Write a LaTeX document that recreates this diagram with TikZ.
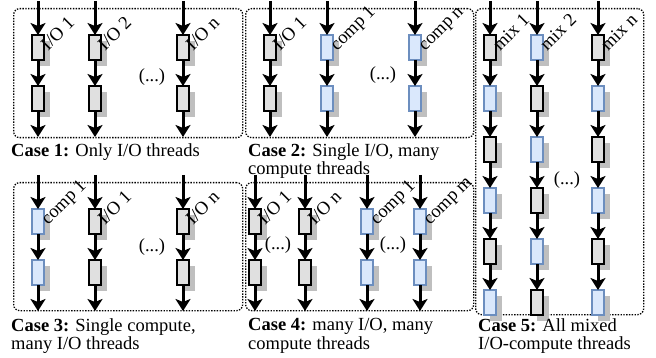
\documentclass[tikz,border=0pt]{standalone}
\usepackage{fontspec}
\setmainfont{Liberation Serif}
\usetikzlibrary{
	positioning,
	arrows.meta,
	shadows
}
\definecolor{iofill}{RGB}{224,224,224}
\definecolor{compfill}{RGB}{218,232,252}
\definecolor{compline}{RGB}{108,142,191}
\newcommand{\IO}{I/O}

\begin{document}
\begin{tikzpicture}[
			x=1pt, y=1pt,
			node distance=26pt,
			font=\fontsize{18.5}{18.5}\selectfont,
			iobox/.style={
				draw=black,
				line width=2pt,
				fill=iofill,
				minimum width=12pt,
				minimum height=25pt,
				inner sep=0pt,
				outer sep=0pt,
				drop shadow={shadow xshift=6pt, shadow yshift=-6pt, fill=black!25, opacity=1}
			},
			compbox/.style={iobox, draw=compline, fill=compfill},
			thread/.style={line width=3pt, -{Stealth[length=12pt,width=15pt,inset=3pt]}},
			lab/.style={rotate=45, anchor=base west, inner sep=0pt},
			frame/.style={
				draw,
				dash pattern=on 1.4pt off 1.4pt,
				line width=1.3pt,
				rounded corners=6pt,
				anchor=north west,
				inner sep=0pt
			},
			caption/.style={anchor=north west, align=left, inner sep=0pt}
			]
			
			\useasboundingbox (0,-358) rectangle (656,0);
			
			% frames
			\node[frame, minimum width=229pt, minimum height=129pt] (case1) at (13,-8) {};
			\node[frame, minimum width=228pt, minimum height=129pt] (case2) at (245,-8) {};
			\node[frame, minimum width=229pt, minimum height=128pt] (case3) at (13,-182) {};
			\node[frame, minimum width=228pt, minimum height=128pt] (case4) at (245,-182) {};
			\node[frame, minimum width=168pt, minimum height=306pt] (case5) at (475,-8) {};
			
			% threads with two tasks (cases 1 to 4)
			\foreach \x/\y/\sty/\lab [count=\i] in {
				38/-1/iobox/{\IO~1}, 95/-1/iobox/{\IO~2}, 183/-1/iobox/{\IO~n},
				270/-1/iobox/{\IO~1}, 327/-1/compbox/{comp 1}, 415/-1/compbox/{comp n},
				38/-175/compbox/{comp 1}, 95/-175/iobox/{\IO~1}, 183/-175/iobox/{\IO~n},
				255/-175/iobox/{\IO~1}, 305/-175/iobox/{\IO~n},
				367/-175/compbox/{comp 1}, 420/-175/compbox/{comp m}} {
				\coordinate (t\i) at (\x,\y);
				\node[\sty, below=34pt of t\i] (a\i) {};
				\node[\sty, below=of a\i] (b\i) {};
				\coordinate[below=26pt of b\i] (e\i);
				\node[lab] (l\i) at ([xshift=4pt,yshift=-4pt]a\i.east) {\lab};
				\draw[thread] (t\i) -- (a\i);
				\draw[thread] (a\i) -- (b\i);
				\draw[thread] (b\i) -- (e\i);
			}
			
			% mixed threads (case 5)
			\foreach \x/\sa/\sb/\lab [count=\i] in {
				490/iobox/compbox/{mix 1}, 537/compbox/iobox/{mix 2}, 598/iobox/compbox/{mix n}} {
				\coordinate (mt\i) at (\x,-1);
				\node[\sa, below=34pt of mt\i] (m\i-1) {};
				\node[\sb, below=of m\i-1] (m\i-2) {};
				\node[\sa, below=of m\i-2] (m\i-3) {};
				\node[\sb, below=of m\i-3] (m\i-4) {};
				\node[\sa, below=of m\i-4] (m\i-5) {};
				\node[\sb, below=of m\i-5] (m\i-6) {};
				\node[lab] (ml\i) at ([xshift=4pt,yshift=-4pt]m\i-1.east) {\lab};
				\draw[thread] (mt\i) -- (m\i-1);
				\foreach \k [evaluate=\k as \p using int(\k-1)] in {2,...,6}
					\draw[thread] (m\i-\p) -- (m\i-\k);
			}
			
			% dots
			\node (dots1) at (152,-77) {(...)};
			\node (dots2) at (383,-75) {(...)};
			\node (dots3) at (152,-247) {(...)};
			\node (dots4a) at (278,-245) {(...)};
			\node (dots4b) at (393,-245) {(...)};
			\node (dots5) at (567,-180) {(...)};
			
			% captions
			\node[caption] (cap1) at ([xshift=-2pt,yshift=-5pt]case1.south west)
			{\textbf{Case 1:} Only \IO\ threads};
			\node[caption] (cap2) at ([xshift=3pt,yshift=-5pt]case2.south west)
			{\textbf{Case 2:} Single \IO, many\\compute threads};
			\node[caption] (cap3) at ([xshift=-2pt,yshift=-7pt]case3.south west)
			{\textbf{Case 3:} Single compute,\\many \IO\ threads};
			\node[caption] (cap4) at ([xshift=3pt,yshift=-7pt]case4.south west)
			{\textbf{Case 4:} many \IO, many\\compute threads};
			\node[caption] (cap5) at ([xshift=3pt,yshift=-3pt]case5.south west)
			{\textbf{Case 5:} All mixed\\\IO-compute threads};
			
		\end{tikzpicture}
\end{document}
